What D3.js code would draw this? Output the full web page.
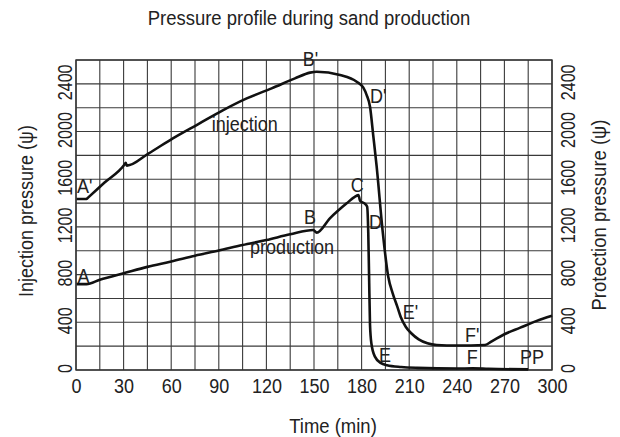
<!DOCTYPE html>
<html><head><meta charset="utf-8">
<script src="https://cdn.jsdelivr.net/npm/d3@7"></script>
<style>
body{margin:0;background:#fff}
svg{display:block}
text{font-family:"Liberation Sans",Arial,Helvetica,sans-serif;fill:#222}
</style>
</head><body>
<svg id="c" width="620" height="437"></svg>
<script>
// ---------- data ----------
const timeTicks = [0, 30, 60, 90, 120, 150, 180, 210, 240, 270, 300];
const pressureTicks = [0, 400, 800, 1200, 1600, 2000, 2400];
const timeGrid = d3.range(0, 301, 15);
const pressureGrid = d3.range(0, 2601, 200);

// injection pressure (time min, pressure)
const injection = [
  [0.4, 1434], [6.6, 1434], [7.6, 1446], [18, 1572], [30.6, 1724], [31.3, 1737], [32.1, 1714],
  [45.6, 1815], [61.3, 1945], [77.1, 2063], [92.8, 2180], [107.6, 2278],
  [123.3, 2362], [138, 2446], [147.5, 2494], [151.7, 2502], [166.4, 2474],
  [176.9, 2418], [181, 2370], [183.2, 2306], [185.3, 2208], [187.4, 1960],
  [189.5, 1705], [193.2, 1174], [196.8, 782], [199.6, 643], [202.5, 531],
  [204.6, 447], [207.8, 363], [211.3, 308], [216, 257], [221.5, 224],
  [227.3, 210], [240, 205], [257.8, 210], [262, 240], [270, 300],
  [280, 355], [290, 410], [300, 455]
];

// production pressure (time min, pressure)
const production = [
  [0.4, 720], [6.6, 720], [15, 757], [31, 815], [45, 865], [60, 910],
  [75, 958], [90, 1002], [105, 1048], [120, 1090], [135, 1138], [149.6, 1174], [151.7, 1152],
  [160, 1272], [170.6, 1398], [175.9, 1454], [178, 1468], [179, 1420],
  [182, 1395], [183.5, 1370], [184.2, 1150], [184.7, 800], [185.3, 380],
  [186.2, 220], [188.4, 112], [192, 60], [196, 40], [205, 25], [215, 18],
  [240, 12], [250, 14], [260, 10], [285, 5]
];

// point labels (text, time, pressure)
const pointLabels = [
  ["A'", 0.6, 1487], ["A", 0.9, 730], ["B'", 142.9, 2550], ["D'", 185.3, 2242],
  ["C", 173.1, 1495], ["B", 143.7, 1225], ["D", 184.7, 1183], ["E'", 205.9, 428],
  ["F'", 245.2, 237], ["E", 191, 70], ["F", 246.2, 50], ["PP", 279.8, 50],
  ["injection", 85.5, 2005], ["production", 109.7, 973]
];

const title = "Pressure profile during sand production";
const xTitle = "Time (min)";
const yTitleLeft = "Injection pressure (\u03c8)";
const yTitleRight = "Protection pressure (\u03c8)";

// ---------- layout ----------
const L = 76, R = 552, T = 60, B = 370;
const svg = d3.select("#c");
const x = d3.scaleLinear().domain([0, 300]).range([L, R]);
const y = d3.scaleLinear().domain([0, 2600]).range([B, T]);

// grid
const g = svg.append("g");
g.selectAll(".vg").data(timeGrid).join("line")
  .attr("x1", d => x(d)).attr("x2", d => x(d)).attr("y1", T).attr("y2", B)
  .attr("stroke", "#3a3a3a").attr("stroke-width", 1.1);
g.selectAll(".hg").data(pressureGrid).join("line")
  .attr("y1", d => y(d)).attr("y2", d => y(d)).attr("x1", L).attr("x2", R)
  .attr("stroke", "#3a3a3a").attr("stroke-width", 1.1);
svg.append("rect").attr("x", L).attr("y", T).attr("width", R - L).attr("height", B - T)
  .attr("fill", "none").attr("stroke", "#333").attr("stroke-width", 1.4);

// axes
const xAxis = svg.append("g").attr("transform", `translate(0,${B})`)
  .call(d3.axisBottom(x).tickValues(timeTicks).tickSize(0).tickFormat(d3.format("d")));
xAxis.select(".domain").remove();
xAxis.selectAll("text").attr("y", 0).attr("dy", 0)
  .attr("transform", "translate(0,23) scale(1,1.12)")
  .style("font-size", "18px").attr("fill", "#222");

const yAxisL = svg.append("g").attr("transform", `translate(${L},0)`)
  .call(d3.axisLeft(y).tickValues(pressureTicks).tickSize(0).tickFormat(d3.format("d")));
yAxisL.select(".domain").remove();
yAxisL.selectAll("text").attr("x", 0).attr("y", 0).attr("dy", 0)
  .attr("text-anchor", "middle")
  .attr("transform", "translate(-4,-2) rotate(-90) scale(0.92,1.12)")
  .style("font-size", "17.5px").attr("fill", "#222");

const yAxisR = svg.append("g").attr("transform", `translate(${R},0)`)
  .call(d3.axisRight(y).tickValues(pressureTicks).tickSize(0).tickFormat(d3.format("d")));
yAxisR.select(".domain").remove();
yAxisR.selectAll("text").attr("x", 0).attr("y", 0).attr("dy", 0)
  .attr("text-anchor", "middle")
  .attr("transform", "translate(23,-2) rotate(-90) scale(0.92,1.12)")
  .style("font-size", "17.5px").attr("fill", "#222");

// lines
const line = d3.line().x(d => x(d[0])).y(d => y(d[1])).curve(d3.curveMonotoneX);
svg.append("path").datum(injection).attr("d", line)
  .attr("fill", "none").attr("stroke", "#111").attr("stroke-width", 2.6).attr("stroke-linejoin", "round");
svg.append("path").datum(production).attr("d", line)
  .attr("fill", "none").attr("stroke", "#111").attr("stroke-width", 2.6).attr("stroke-linejoin", "round");

// point labels
svg.selectAll(".pl").data(pointLabels).join("text")
  .attr("transform", d => `translate(${x(d[1])},${y(d[2])}) scale(1,1.1)`)
  .style("font-size", "18px").text(d => d[0]);

// titles
svg.append("text").attr("transform", "translate(309,25) scale(1,1.12)")
  .attr("text-anchor", "middle").style("font-size", "18.5px").text(title);
svg.append("text").attr("transform", "translate(333,433) scale(1,1.12)")
  .attr("text-anchor", "middle").style("font-size", "18.5px").text(xTitle);
svg.append("text").attr("transform", "translate(33,211) rotate(-90) scale(1,1.12)")
  .attr("text-anchor", "middle").style("font-size", "18px").text(yTitleLeft);
svg.append("text").attr("transform", "translate(606,215) rotate(-90) scale(1,1.12)")
  .attr("text-anchor", "middle").style("font-size", "18.5px").text(yTitleRight);
</script>
</body></html>
